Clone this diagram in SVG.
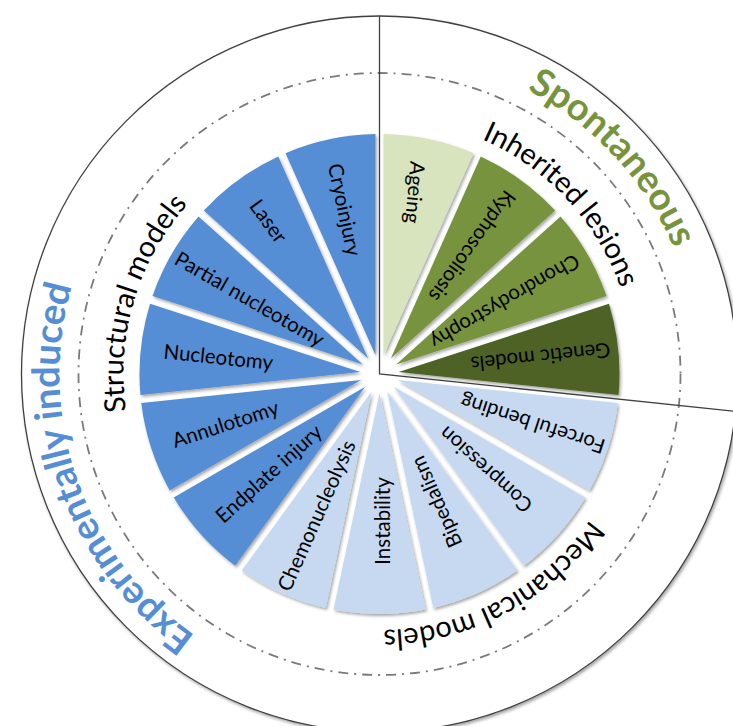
<svg xmlns="http://www.w3.org/2000/svg" xmlns:xlink="http://www.w3.org/1999/xlink" width="733" height="726" viewBox="0 0 733 726">
<style>
.lbl{font-family:Lato,"Open Sans","Liberation Sans",sans-serif;font-size:20.5px;fill:#000;text-anchor:middle}
.ring{font-family:Lato,"Open Sans","Liberation Sans",sans-serif;font-size:29px;fill:#000;text-anchor:middle}
.big{font-family:Lato,"Open Sans","Liberation Sans",sans-serif;font-size:38px;font-weight:bold;text-anchor:middle}
.div{fill:none;stroke:#404040;stroke-width:1.3}
</style>
<defs>
<path id="wedge" d="M0 -19.24 L-45.98 -235.56 A240 240 0 0 1 45.98 -235.56 Z"/>
<filter id="sh" x="-20%" y="-20%" width="140%" height="140%">
<feDropShadow dx="1.5" dy="2" stdDeviation="1.6" flood-color="#000" flood-opacity="0.35"/>
</filter>
<path id="ring1" d="M379.5 118 A256 256 0 1 1 379.5 630 A256 256 0 1 1 379.5 118"/>
<path id="ring2" d="M379.5 54 A320 320 0 1 1 379.5 694 A320 320 0 1 1 379.5 54"/>
</defs>
<rect width="733" height="726" fill="#fff"/>
<circle cx="379.5" cy="374" r="358" fill="#fff" stroke="#404040" stroke-width="1.3" filter="url(#sh)"/>
<circle cx="379.5" cy="374" r="301" fill="none" stroke="#7a7a7a" stroke-width="1.8" stroke-dasharray="10 6 2 6"/>
<g id="dividers">
<polyline class="div" points="379.5,16 379.5,374 735.5,411.4"/>
</g>
<g id="n-ageing"><g filter="url(#sh)"><use href="#wedge" transform="translate(379.5 374) rotate(12)" fill="#D7E4BD"/></g><text class="lbl" transform="translate(379.5 374) rotate(12) translate(-3 -185) rotate(83)" dy="0.35em">Ageing</text></g>
<g id="n-kypho"><g filter="url(#sh)"><use href="#wedge" transform="translate(379.5 374) rotate(36)" fill="#77933C"/></g><text class="lbl" transform="translate(379.5 374) rotate(36) translate(0 -158) rotate(90)" dy="0.35em">Kyphoscoliosis</text></g>
<g id="n-chondro"><g filter="url(#sh)"><use href="#wedge" transform="translate(379.5 374) rotate(60)" fill="#77933C"/></g><text class="lbl" transform="translate(379.5 374) rotate(60) translate(0 -145) rotate(90)" dy="0.35em">Chondrodystrophy</text></g>
<g id="n-genetic"><g filter="url(#sh)"><use href="#wedge" transform="translate(379.5 374) rotate(84)" fill="#4F6228"/></g><text class="lbl" transform="translate(379.5 374) rotate(84) translate(0 -162) rotate(90)" dy="0.35em">Genetic models</text></g>
<g id="n-forceful"><g filter="url(#sh)"><use href="#wedge" transform="translate(379.5 374) rotate(108)" fill="#C6D9F1"/></g><text class="lbl" transform="translate(379.5 374) rotate(108) translate(0 -161) rotate(90)" dy="0.35em">Forceful bending</text></g>
<g id="n-compression"><g filter="url(#sh)"><use href="#wedge" transform="translate(379.5 374) rotate(132)" fill="#C6D9F1"/></g><text class="lbl" transform="translate(379.5 374) rotate(132) translate(0 -143) rotate(90)" dy="0.35em">Compression</text></g>
<g id="n-bipedalism"><g filter="url(#sh)"><use href="#wedge" transform="translate(379.5 374) rotate(156)" fill="#C6D9F1"/></g><text class="lbl" transform="translate(379.5 374) rotate(156) translate(0 -140) rotate(90)" dy="0.35em">Bipedalism</text></g>
<g id="n-instability"><g filter="url(#sh)"><use href="#wedge" transform="translate(379.5 374) rotate(180)" fill="#C6D9F1"/></g><text class="lbl" transform="translate(379.5 374) rotate(180) translate(-3 -147) rotate(90)" dy="0.35em">Instability</text></g>
<g id="n-chemo"><g filter="url(#sh)"><use href="#wedge" transform="translate(379.5 374) rotate(204)" fill="#C6D9F1"/></g><text class="lbl" transform="translate(379.5 374) rotate(204) translate(0 -155) rotate(90)" dy="0.35em">Chemonucleolysis</text></g>
<g id="n-endplate"><g filter="url(#sh)"><use href="#wedge" transform="translate(379.5 374) rotate(228)" fill="#558ED5"/></g><text class="lbl" transform="translate(379.5 374) rotate(228) translate(0 -149) rotate(90)" dy="0.35em">Endplate injury</text></g>
<g id="n-annulotomy"><g filter="url(#sh)"><use href="#wedge" transform="translate(379.5 374) rotate(252)" fill="#558ED5"/></g><text class="lbl" transform="translate(379.5 374) rotate(252) translate(0 -162) rotate(90)" dy="0.35em">Annulotomy</text></g>
<g id="n-nucleotomy"><g filter="url(#sh)"><use href="#wedge" transform="translate(379.5 374) rotate(276)" fill="#558ED5"/></g><text class="lbl" transform="translate(379.5 374) rotate(276) translate(0 -162) rotate(90)" dy="0.35em">Nucleotomy</text></g>
<g id="n-partial"><g filter="url(#sh)"><use href="#wedge" transform="translate(379.5 374) rotate(300)" fill="#558ED5"/></g><text class="lbl" transform="translate(379.5 374) rotate(300) translate(0 -150) rotate(90)" dy="0.35em">Partial nucleotomy</text></g>
<g id="n-laser"><g filter="url(#sh)"><use href="#wedge" transform="translate(379.5 374) rotate(324)" fill="#558ED5"/></g><text class="lbl" transform="translate(379.5 374) rotate(324) translate(0 -189) rotate(90)" dy="0.35em">Laser</text></g>
<g id="n-cryo"><g filter="url(#sh)"><use href="#wedge" transform="translate(379.5 374) rotate(348)" fill="#558ED5"/></g><text class="lbl" transform="translate(379.5 374) rotate(348) translate(0 -168) rotate(90)" dy="0.35em">Cryoinjury</text></g>
<g id="g-structural"><text class="ring"><textPath href="#ring1" startOffset="79.6%">Structural models</textPath></text></g>
<g id="g-inherited"><text class="ring"><textPath href="#ring1" startOffset="13.05%">Inherited lesions</textPath></text></g>
<g id="g-mechanical"><text class="ring"><textPath href="#ring1" startOffset="42.2%">Mechanical models</textPath></text></g>
<g id="g-spontaneous"><text class="big" fill="#77933C"><textPath href="#ring2" startOffset="13.1%">Spontaneous</textPath></text></g>
<g id="g-experimental"><text class="big" fill="#558ED5"><textPath href="#ring2" startOffset="69.6%">Experimentally induced</textPath></text></g>
</svg>
